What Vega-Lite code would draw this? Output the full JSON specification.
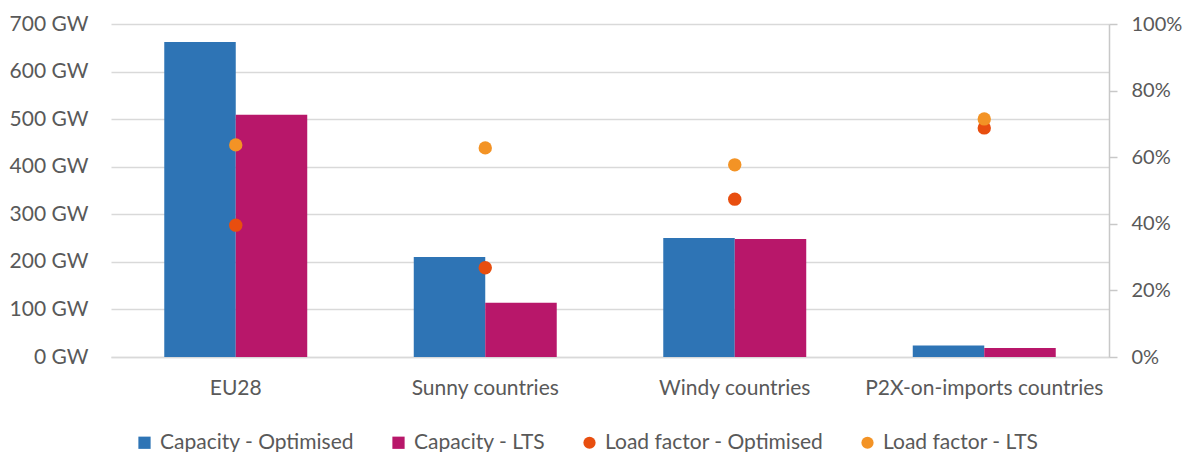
{
  "$schema": "https://vega.github.io/schema/vega-lite/v6.json",
  "autosize": {"type": "none"},
  "width": 998,
  "height": 333,
  "padding": {"left": 111, "top": 24, "right": 80, "bottom": 95},
  "config": {
    "font": "Lato",
    "view": {"stroke": null},
    "axis": {"labelColor": "#595959", "labelFont": "Lato", "labelFontSize": 21, "labelLimit": 400}
  },
  "datasets": {
    "cap": [
      {"region": "EU28", "series": "Capacity - Optimised", "gw": 662},
      {"region": "EU28", "series": "Capacity - LTS", "gw": 509},
      {"region": "Sunny countries", "series": "Capacity - Optimised", "gw": 210},
      {"region": "Sunny countries", "series": "Capacity - LTS", "gw": 114},
      {"region": "Windy countries", "series": "Capacity - Optimised", "gw": 250},
      {"region": "Windy countries", "series": "Capacity - LTS", "gw": 248},
      {"region": "P2X-on-imports countries", "series": "Capacity - Optimised", "gw": 24},
      {"region": "P2X-on-imports countries", "series": "Capacity - LTS", "gw": 19}
    ],
    "lf": [
      {"region": "EU28", "series": "Load factor - Optimised", "lf": 0.396},
      {"region": "EU28", "series": "Load factor - LTS", "lf": 0.637},
      {"region": "Sunny countries", "series": "Load factor - Optimised", "lf": 0.268},
      {"region": "Sunny countries", "series": "Load factor - LTS", "lf": 0.628},
      {"region": "Windy countries", "series": "Load factor - Optimised", "lf": 0.474},
      {"region": "Windy countries", "series": "Load factor - LTS", "lf": 0.577},
      {"region": "P2X-on-imports countries", "series": "Load factor - Optimised", "lf": 0.688},
      {"region": "P2X-on-imports countries", "series": "Load factor - LTS", "lf": 0.715}
    ]
  },
  "encoding": {
    "x": {
      "field": "region",
      "type": "nominal",
      "sort": ["EU28", "Sunny countries", "Windy countries", "P2X-on-imports countries"],
      "scale": {"paddingInner": 0, "paddingOuter": 0},
      "axis": {"title": null, "labelAngle": 0, "domain": true, "domainColor": "#d9d9d9", "domainWidth": 1.5, "ticks": false, "labelPadding": 20, "grid": false}
    },
    "color": {
      "field": "series",
      "type": "nominal",
      "scale": {
        "domain": ["Capacity - Optimised", "Capacity - LTS", "Load factor - Optimised", "Load factor - LTS"],
        "range": ["#2E74B5", "#B8176A", "#E84E0F", "#F39325"]
      },
      "legend": {
        "title": null,
        "orient": "none",
        "legendX": 23,
        "legendY": 408,
        "direction": "horizontal",
        "labelFontSize": 21,
        "labelFont": "Lato",
        "labelColor": "#595959",
        "symbolSize": 150,
        "symbolStrokeWidth": 0,
        "columnPadding": 33,
        "labelOffset": 5,
        "labelLimit": 400,
        "encode": {
          "symbols": {
            "update": {
              "shape": {"signal": "indexof(datum.value, 'Load') === 0 ? 'circle' : 'square'"}
            }
          }
        }
      }
    }
  },
  "layer": [
    {
      "data": {"name": "cap"},
      "mark": {"type": "bar"},
      "encoding": {
        "xOffset": {
          "field": "series",
          "type": "nominal",
          "sort": ["Capacity - Optimised", "Capacity - LTS"],
          "scale": {"paddingInner": 0, "paddingOuter": 0.745}
        },
        "y": {
          "field": "gw",
          "type": "quantitative",
          "scale": {"domain": [0, 700]},
          "axis": {
            "title": null,
            "values": [0, 100, 200, 300, 400, 500, 600, 700],
            "labelExpr": "datum.value + ' GW'",
            "domain": false,
            "ticks": false,
            "labelPadding": 23,
            "gridColor": "#d9d9d9",
            "gridWidth": 1.5
          }
        }
      }
    },
    {
      "data": {"name": "lf"},
      "mark": {"type": "point", "filled": true, "opacity": 1, "size": 180},
      "encoding": {
        "y": {
          "field": "lf",
          "type": "quantitative",
          "scale": {"domain": [0, 1]},
          "axis": {
            "title": null,
            "orient": "right",
            "format": ".0%",
            "values": [0, 0.2, 0.4, 0.6, 0.8, 1],
            "grid": false,
            "domainColor": "#c8c8c8",
            "domainWidth": 1.5,
            "tickColor": "#c8c8c8",
            "tickWidth": 1.5,
            "tickSize": 8,
            "labelPadding": 14,
            "labelFontSize": 20
          }
        }
      }
    }
  ],
  "resolve": {"scale": {"y": "independent"}}
}
